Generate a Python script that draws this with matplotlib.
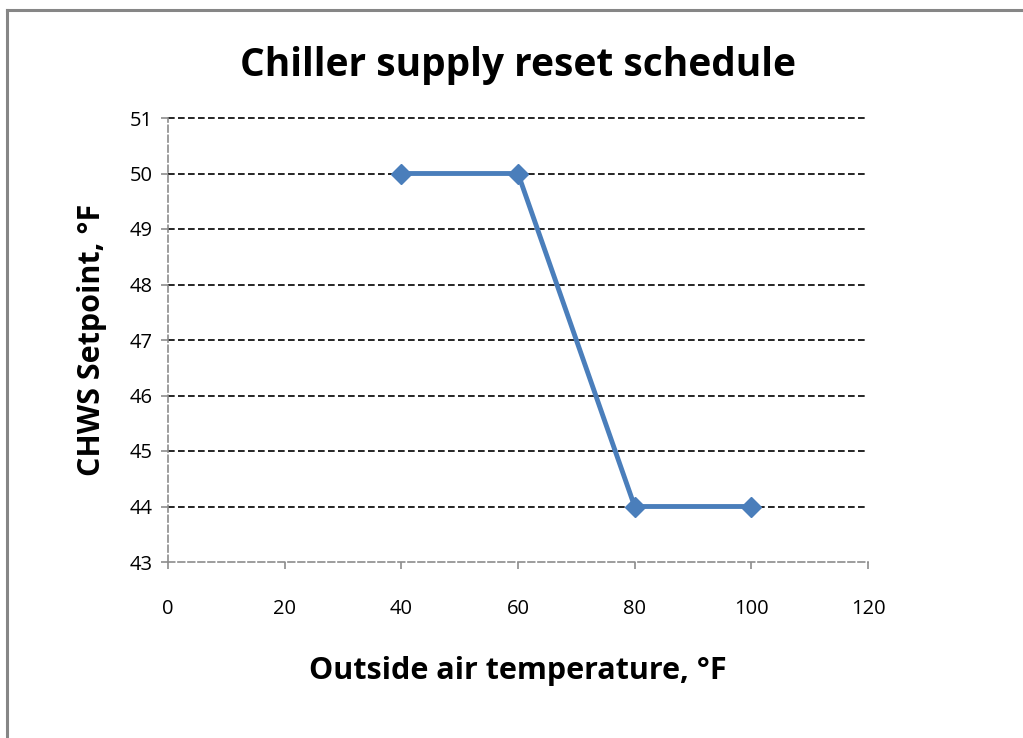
import matplotlib
matplotlib.use("Agg")
import matplotlib.pyplot as plt
from matplotlib.lines import Line2D

oat = [40, 60, 80, 100]
setpoint = [50, 50, 44, 44]
xticks = [0, 20, 40, 60, 80, 100, 120]
yticks = [43, 44, 45, 46, 47, 48, 49, 50, 51]

plt.rcParams['font.family'] = ['Open Sans', 'DejaVu Sans']

fig = plt.figure(figsize=(10.23, 7.38), dpi=100)
ax = fig.add_axes([168/1023, 1-562/738, 700/1023, 444/738])

# figure border (left and top visible)
fig.add_artist(Line2D([7/1023, 7/1023], [0, 1-10/738], transform=fig.transFigure, color='#868686', lw=2.2))
fig.add_artist(Line2D([7/1023, 1], [1-10/738, 1-10/738], transform=fig.transFigure, color='#868686', lw=2.2))

ax.set_xlim(0, 120)
ax.set_ylim(43, 51)
for y in yticks[1:]:
    ax.axhline(y, color='black', lw=1.2, ls=(0, (4, 2)), zorder=1, clip_on=False)

ax.plot(oat, setpoint, color='#4A7EBB', lw=3.5, marker='D', markersize=10,
        markerfacecolor='#4A7EBB', markeredgecolor='#4A7EBB', zorder=3, solid_joinstyle='round')

for s in ['top', 'right']:
    ax.spines[s].set_visible(False)
for s in ['left', 'bottom']:
    ax.spines[s].set_color('#8C8C8C')
    ax.spines[s].set_linestyle((0, (4, 2)))
    ax.spines[s].set_linewidth(1.2)

ax.set_xticks(xticks)
ax.set_yticks(yticks)
ax.tick_params(axis='both', colors='#8C8C8C', length=5, width=1.2, labelsize=14.5, labelcolor='black')
ax.tick_params(axis='x', direction='out', pad=22)
ax.tick_params(axis='y', pad=6)

ax.set_title('Chiller supply reset schedule', fontsize=28, fontweight='bold', pad=30)
ax.set_xlabel('Outside air temperature, °F', fontsize=22, fontweight='bold', labelpad=26)
ax.set_ylabel('CHWS Setpoint, °F', fontsize=22, fontweight='bold', labelpad=16)

fig.savefig('out.png', dpi=100)
